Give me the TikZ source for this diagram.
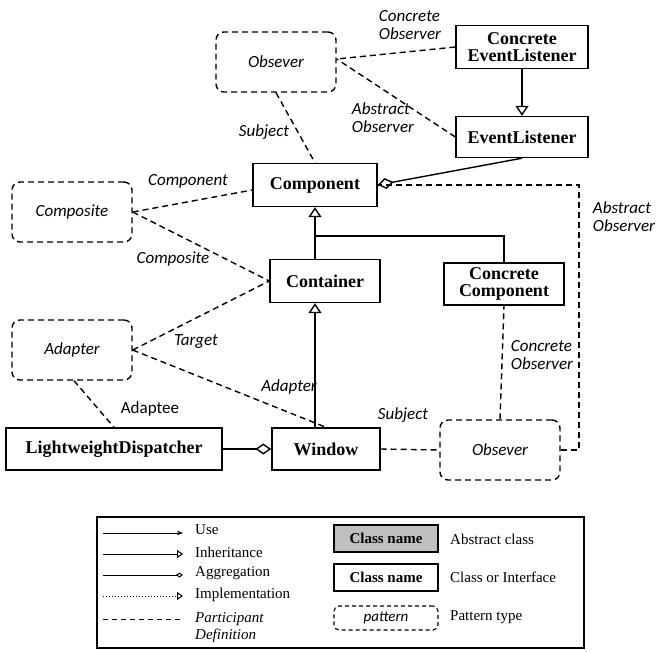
\documentclass[tikz,border=0pt]{standalone}
\usepackage{fontspec}
\setmainfont{Liberation Serif}
\newfontfamily\lblfont{Carlito}
\usetikzlibrary{arrows.meta,positioning}
\begin{document}
\begin{tikzpicture}[
x=1pt, y=-1pt,
cls/.style={draw, line width=1.4pt, font=\bfseries\fontsize{18}{17}\selectfont, align=center, inner sep=2pt},
pat/.style={draw, dash pattern=on 6pt off 4pt, line width=1.4pt, rounded corners=8pt, font=\lblfont\itshape\fontsize{17}{18}\selectfont},
part/.style={dash pattern=on 6pt off 4pt, line width=1.4pt},
lbl/.style={font=\lblfont\itshape\fontsize{17}{18}\selectfont, align=left, inner sep=1pt},
inh/.style={line width=1.4pt, -{Triangle[open, length=10pt, width=13pt]}},
agg/.style={line width=1.4pt, -{Diamond[open, length=16pt, width=11pt]}},
leg/.style={font=\fontsize{15}{15}\selectfont, anchor=west, inner sep=1pt}
]
\useasboundingbox (0,0) rectangle (667,651);

%% classes
\node[cls, minimum width=132pt, minimum height=43pt] (cel) at (522,47) {Concrete\\EventListener};
\node[cls, minimum width=132pt, minimum height=41pt] (el) at (522,137) {EventListener};
\node[cls, minimum width=124pt, minimum height=43pt] (comp) at (315,185) {Component};
\node[cls, minimum width=110pt, minimum height=43pt] (cont) at (325,281) {Container};
\node[cls, minimum width=120pt, minimum height=42pt] (ccomp) at (504,284) {Concrete\\Component};
\node[cls, minimum width=108pt, minimum height=42pt] (win) at (326,449) {Window};
\node[cls, minimum width=216pt, minimum height=42pt] (lwd) at (114,449) {LightweightDispatcher};

%% patterns
\node[pat, minimum width=120pt, minimum height=60pt] (obs) at (276,62) {Obsever};
\node[pat, minimum width=120pt, minimum height=60pt] (cps) at (72,212) {Composite};
\node[pat, minimum width=120pt, minimum height=60pt] (adp) at (72,350) {Adapter};
\node[pat, minimum width=120pt, minimum height=60pt] (obs2) at (500,450) {Obsever};

%% relations
\draw[inh] (cel) -- (el);
\draw[agg] (el.south) -- (comp.east);
\draw[inh] (cont.north -| comp.south) -- (comp.south);
\coordinate (jn) at (315,236);
\draw[line width=1.4pt] (ccomp.north) |- (jn);
\draw[inh] (win.north -| comp.south) -- (cont.south -| comp.south);
\draw[agg] (lwd) -- (win);

%% participants
\draw[part] (cel.west) -- ([yshift=3pt]obs.east);
\draw[part] (el.west) -- ([yshift=3pt]obs.east);
\draw[part] (obs.south) -- (comp.north);
\draw[part] (cps.east) -- ([yshift=-5pt]comp.west);
\draw[part] (cps.east) -- (cont.west);
\draw[part] (adp.east) -- (cont.west);
\draw[part] (adp.east) -- (win.north);
\draw[part] ([xshift=2pt]adp.south) -- (lwd.north);
\draw[part] (win.east) -- (obs2.west);
\draw[part] (obs2.north) -- (ccomp.south);
\coordinate (ao) at (579,185);
\draw[part] (obs2.east) -| (ao) -- (comp.east);

%% labels
\node[lbl] at (410,25) {Concrete\\Observer};
\node[lbl] at (383,118) {Abstract\\Observer};
\node[lbl] at (264,132) {Subject};
\node[lbl] at (188,181) {Component};
\node[lbl] at (173,259) {Composite};
\node[lbl] at (196,341) {Target};
\node[lbl] at (289,387) {Adapter};
\node[font=\lblfont\fontsize{17}{18}\selectfont, inner sep=1pt] at (150,409) {Adaptee};
\node[lbl] at (403,415) {Subject};
\node[lbl] at (542,355) {Concrete\\Observer};
\node[lbl] at (624,217) {Abstract\\Observer};

%% legend
\node[draw, line width=1.1pt, minimum width=487pt, minimum height=131pt] (legbox) at (340.5,582.5) {};
\coordinate (u1) at (103,533); \coordinate (u2) at (183,533);
\draw[line width=1pt, -{Stealth[length=6pt]}] (u1) -- (u2);
\coordinate (i1) at (103,554); \coordinate (i2) at (183,554);
\draw[line width=1pt, -{Triangle[open, length=6pt, width=8pt]}] (i1) -- (i2);
\coordinate (a1) at (103,575); \coordinate (a2) at (183,575);
\draw[line width=1pt, -{Diamond[open, length=7pt, width=5pt]}] (a1) -- (a2);
\coordinate (m1) at (103,596); \coordinate (m2) at (183,596);
\draw[line width=1pt, dotted, -{Triangle[open, length=6pt, width=8pt]}] (m1) -- (m2);
\coordinate (p1) at (103,619); \coordinate (p2) at (181,619);
\draw[line width=1pt, dash pattern=on 5pt off 4pt] (p1) -- (p2);
\node[leg] at (194,530) {Use};
\node[leg] at (194,552) {Inheritance};
\node[leg] at (194,573) {Aggregation};
\node[leg] at (194,595) {Implementation};
\node[leg, font=\itshape\fontsize{15}{17}\selectfont, align=left] at (194,628) {Participant\\Definition};
\node[draw, line width=1.3pt, fill=gray!50, minimum width=104pt, minimum height=27pt, font=\bfseries\fontsize{15}{15}\selectfont] (abs) at (386,538.5) {Class name};
\node[draw, line width=1.3pt, minimum width=104pt, minimum height=27pt, font=\bfseries\fontsize{15}{15}\selectfont] (cin) at (386,577.5) {Class name};
\node[draw, dash pattern=on 4pt off 3pt, line width=1.1pt, rounded corners=5pt, minimum width=104pt, minimum height=24pt, font=\lblfont\itshape\fontsize{15}{15}\selectfont] (ptn) at (386,618) {pattern};
\node[leg] at (449,539) {Abstract class};
\node[leg] at (449,577) {Class or Interface};
\node[leg] at (449,617) {Pattern type};
\end{tikzpicture}
\end{document}
